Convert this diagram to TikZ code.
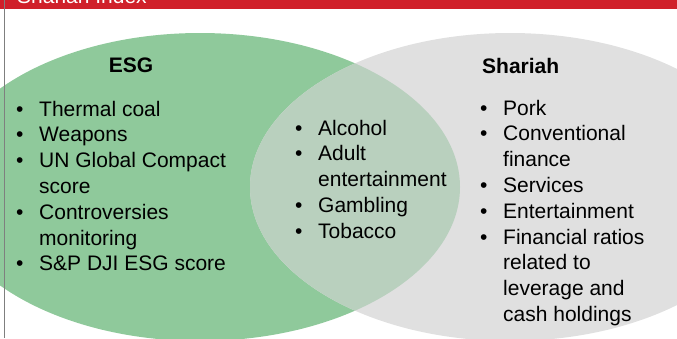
\documentclass[tikz,border=0pt]{standalone}
\usepackage{fontspec}
\setmainfont{Liberation Sans}
\usepackage{xcolor}
\usetikzlibrary{shapes.geometric, positioning}

\definecolor{esggreen}{HTML}{8FC99B}
\definecolor{shgray}{HTML}{E0E0E0}
\definecolor{bothcol}{HTML}{B9D0BE}
\definecolor{bandred}{HTML}{D0202A}
\definecolor{edgegray}{HTML}{7F7F7F}

\newcommand{\itm}[1]{\makebox[23pt][l]{\textbullet}#1}
\newcommand{\cnt}[1]{\hspace*{23pt}#1}

\begin{document}
\begin{tikzpicture}[x=1pt, y=-1pt, node distance=310pt, on grid,
  set/.style={ellipse, minimum width=520pt, minimum height=308pt, inner sep=0pt},
  title/.style={font=\fontsize{21}{25.8}\selectfont\bfseries, inner sep=0pt},
  lst/.style={font=\fontsize{21}{25.8}\selectfont, inner sep=0pt, anchor=base west}]

        \clip (0,0) rectangle (677,338);

        % the two sets and their overlap
        \node[set, fill=esggreen] (esg) at (200,187) {};
        \node[set, fill=shgray, right=of esg] (shariah) {};
        \begin{scope}
            \clip (esg.center) ellipse [x radius=260pt, y radius=154pt];
            \fill[bothcol] (shariah.center) ellipse [x radius=260pt, y radius=154pt];
        \end{scope}

        % header band
        \fill[bandred] (0,0) rectangle (677,9);
        \node[lst, text=white] (band) at (17,3) {Shariah Index};
        \draw[edgegray, line width=1.5pt] (4.5,0) -- (4.5,338);

        \node[title, anchor=base] (esgtitle) at (131,72) {ESG};
        \node[title, anchor=base west] (shtitle) at (482,73) {Shariah};

        \node[lst] (esglist) at (16,116) {\begin{tabular}[t]{@{}l@{}}
                    \itm{Thermal coal}\\
                    \itm{Weapons}\\
                    \itm{UN Global Compact}\\
                    \cnt{score}\\
                    \itm{Controversies}\\
                    \cnt{monitoring}\\
                    \itm{S\&P DJI ESG score}
                \end{tabular}};

        \node[lst] (bothlist) at (295,135) {\begin{tabular}[t]{@{}l@{}}
                    \itm{Alcohol}\\
                    \itm{Adult}\\
                    \cnt{entertainment}\\
                    \itm{Gambling}\\
                    \itm{Tobacco}
                \end{tabular}};

        \node[lst] (shlist) at (480,115) {\begin{tabular}[t]{@{}l@{}}
                    \itm{Pork}\\
                    \itm{Conventional}\\
                    \cnt{finance}\\
                    \itm{Services}\\
                    \itm{Entertainment}\\
                    \itm{Financial ratios}\\
                    \cnt{related to}\\
                    \cnt{leverage and}\\
                    \cnt{cash holdings}
                \end{tabular}};

    \end{tikzpicture}
\end{document}
